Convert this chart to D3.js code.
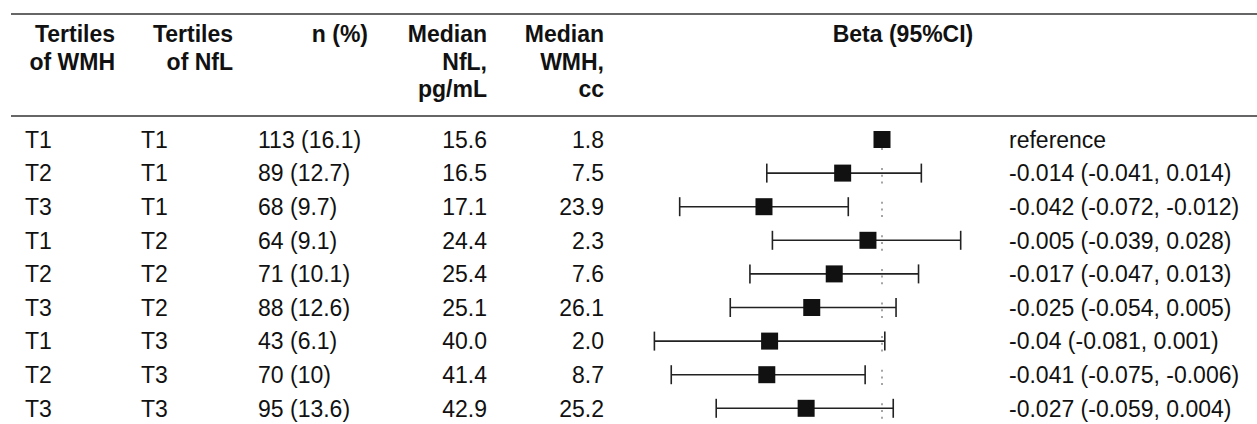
<!DOCTYPE html>
<html>
<head>
<meta charset="utf-8">
<script src="https://cdn.jsdelivr.net/npm/d3@7"></script>
<style>
  body { margin: 0; background: #fff; }
  text { font-family: "Liberation Sans", Arial, Helvetica, sans-serif; fill: #111; }
</style>
</head>
<body>
<div id="chart"></div>
<script>
var width = 1257;
var height = 424;
var fontSize = 23;

let wmhTertile = ["T1", "T2", "T3", "T1", "T2", "T3", "T1", "T2", "T3"];
let nflTertile = ["T1", "T1", "T1", "T2", "T2", "T2", "T3", "T3", "T3"];
let nPct = ["113 (16.1)", "89 (12.7)", "68 (9.7)", "64 (9.1)", "71 (10.1)", "88 (12.6)", "43 (6.1)", "70 (10)", "95 (13.6)"];
let medianNfl = ["15.6", "16.5", "17.1", "24.4", "25.4", "25.1", "40.0", "41.4", "42.9"];
let medianWmh = ["1.8", "7.5", "23.9", "2.3", "7.6", "26.1", "2.0", "8.7", "25.2"];
let beta = [0, -0.014, -0.042, -0.005, -0.017, -0.025, -0.04, -0.041, -0.027];
let lower = [null, -0.041, -0.072, -0.039, -0.047, -0.054, -0.081, -0.075, -0.059];
let upper = [null, 0.014, -0.012, 0.028, 0.013, 0.005, 0.001, -0.006, 0.004];

let headers = [
    {lines: ["Tertiles", "of WMH"], x: 115, anchor: "end"},
    {lines: ["Tertiles", "of NfL"], x: 233, anchor: "end"},
    {lines: ["n (%)"], x: 368, anchor: "end"},
    {lines: ["Median", "NfL,", "pg/mL"], x: 487, anchor: "end"},
    {lines: ["Median", "WMH,", "cc"], x: 604, anchor: "end"},
    {lines: ["Beta (95%CI)"], x: 903, anchor: "middle"}
];

let rows = d3.range(beta.length);

let scaleX = d3.scaleLinear()
    .domain([-0.09, 0.04])
    .range([882 - 0.09 * 2810, 882 + 0.04 * 2810]);

let scaleY = d3.scalePoint()
    .domain(rows)
    .range([139.5, 139.5 + 8 * 33.6]);

let svg = d3.select("#chart")
    .append("svg")
    .attr("width", width)
    .attr("height", height);

// table rules
svg.selectAll(".rule")
    .data([14, 116])
    .enter()
    .append("line")
    .attr("x1", 11)
    .attr("x2", width)
    .attr("y1", d => d)
    .attr("y2", d => d)
    .attr("stroke", "#333")
    .attr("stroke-width", 1.5);

// headers
let head = svg.selectAll(".head")
    .data(headers)
    .enter()
    .append("text")
    .attr("text-anchor", d => d.anchor)
    .style("font-weight", "bold")
    .style("font-size", fontSize + "px");

head.selectAll("tspan")
    .data(d => d.lines.map(l => ({l: l, x: d.x})))
    .enter()
    .append("tspan")
    .attr("x", d => d.x)
    .attr("y", (d, i) => 42 + i * 27.5)
    .text(d => d.l);

// table columns
let baseline = d => scaleY(d) + fontSize * 0.36;
let columns = [
    {values: wmhTertile, x: 25, anchor: "start"},
    {values: nflTertile, x: 141, anchor: "start"},
    {values: nPct, x: 258, anchor: "start"},
    {values: medianNfl, x: 487, anchor: "end"},
    {values: medianWmh, x: 604, anchor: "end"},
    {values: rows.map(i => i === 0 ? "reference" : beta[i] + " (" + lower[i] + ", " + upper[i] + ")"), x: 1009, anchor: "start"}
];

columns.forEach(col => {
    svg.append("g")
        .selectAll("text")
        .data(rows)
        .enter()
        .append("text")
        .attr("x", col.x)
        .attr("y", baseline)
        .attr("text-anchor", col.anchor)
        .style("font-size", fontSize + "px")
        .text(i => col.values[i]);
});

// forest plot
let forest = svg.append("g").classed("forest", true);

forest.selectAll(".ref")
    .data(rows)
    .enter()
    .append("line")
    .attr("x1", scaleX(0))
    .attr("x2", scaleX(0))
    .attr("y1", i => scaleY(i) - 5)
    .attr("y2", i => scaleY(i) + 10.4)
    .attr("stroke", "#888")
    .attr("stroke-width", 1.5)
    .attr("stroke-dasharray", "2,4.7");

let ci = rows.filter(i => lower[i] !== null);

forest.selectAll(".ci")
    .data(ci)
    .enter()
    .append("line")
    .attr("x1", i => scaleX(lower[i]))
    .attr("x2", i => scaleX(upper[i]))
    .attr("y1", scaleY)
    .attr("y2", scaleY)
    .attr("stroke", "#222")
    .attr("stroke-width", 1.6);

[lower, upper].forEach(bound => {
    forest.append("g")
        .selectAll("line")
        .data(ci)
        .enter()
        .append("line")
        .attr("x1", i => scaleX(bound[i]))
        .attr("x2", i => scaleX(bound[i]))
        .attr("y1", i => scaleY(i) - 9.5)
        .attr("y2", i => scaleY(i) + 9.5)
        .attr("stroke", "#222")
        .attr("stroke-width", 1.6);
});

var box = 17;
forest.selectAll(".est")
    .data(rows)
    .enter()
    .append("rect")
    .attr("x", i => scaleX(beta[i]) - box / 2)
    .attr("y", i => scaleY(i) - box / 2)
    .attr("width", box)
    .attr("height", box)
    .attr("fill", "#111");
</script>
</body>
</html>
